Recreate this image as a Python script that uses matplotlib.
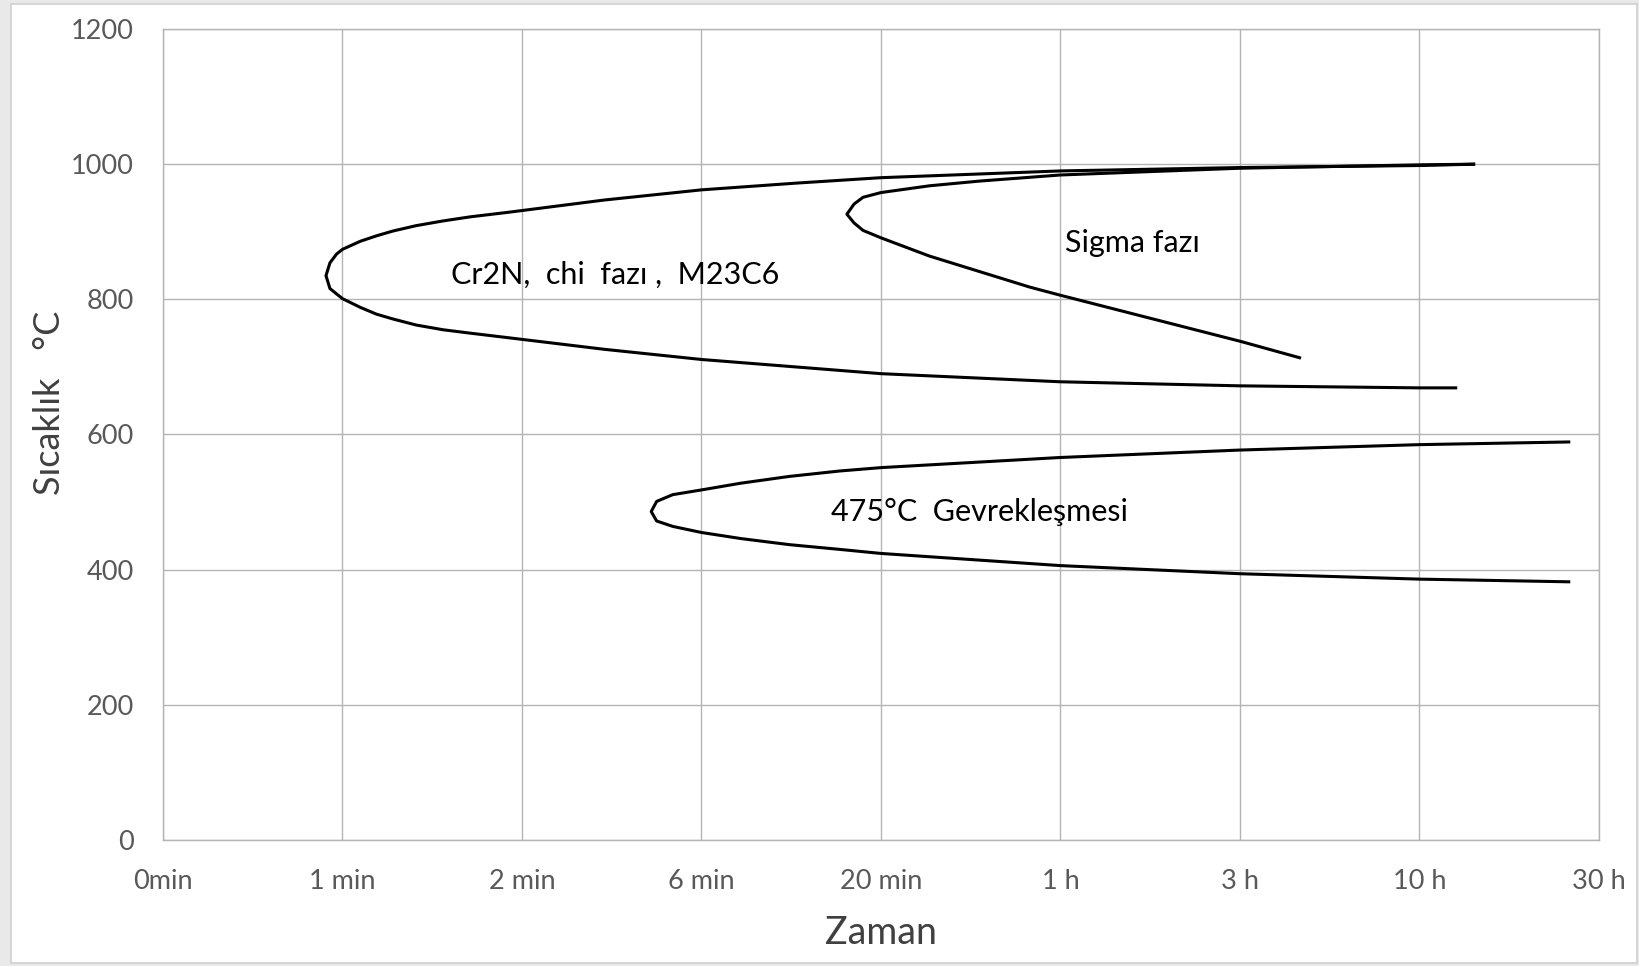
import matplotlib
matplotlib.use("Agg")
import matplotlib.pyplot as plt
from matplotlib.patches import Rectangle

# x positions are category steps: 0 = 0min, 1 = 1 min, ... 8 = 30 h
time_labels = ["0min", "1 min", "2 min", "6 min", "20 min", "1 h", "3 h", "10 h", "30 h"]
temp_ticks = [0, 200, 400, 600, 800, 1000, 1200]

# Cr2N / chi / M23C6 curve (upper end -> nose -> lower end)
cr2n_x = [7.31, 7.0, 6.0, 5.0, 4.0, 3.53, 3.0, 2.46, 1.93, 1.71, 1.56, 1.41, 1.28, 1.19, 1.10, 1.0,
          0.967, 0.93, 0.908,
          0.93, 0.967, 1.0, 1.10, 1.19, 1.28, 1.41, 1.56, 1.71, 1.93, 2.46, 3.0, 4.0, 5.0, 6.0,
          7.0, 7.21]
cr2n_y = [1000, 998, 995, 990, 980, 972, 962, 947, 929, 922, 916, 909, 901, 894, 886, 874,
          867, 854, 835,
          816, 808, 801, 788, 778, 771, 762, 755, 750, 743, 726, 711, 690, 678, 672,
          669, 669]

# Sigma phase curve
sigma_x = [7.31, 7.0, 6.0, 5.0, 4.55, 4.27, 4.0, 3.90, 3.85, 3.81, 3.85, 3.90, 4.0, 4.27, 4.55,
           4.83, 5.0, 6.0, 6.34]
sigma_y = [1000, 999, 994, 984, 975, 968, 958, 951, 941, 926, 913, 902, 891, 864, 841,
           818, 806, 738, 713]

# 475 C embrittlement curve
emb_x = [7.84, 7.0, 6.0, 5.0, 4.0, 3.77, 3.49, 3.22, 3.0, 2.84, 2.75, 2.72, 2.75, 2.84, 3.0, 3.22,
         3.49, 3.77, 4.0, 5.0, 6.0, 7.0, 7.84]
emb_y = [589, 585, 577, 566, 551, 546, 538, 528, 518, 511, 501, 486, 472, 464, 455, 446,
         437, 430, 424, 406, 394, 386, 382]

fig = plt.figure(figsize=(16.4, 9.66), dpi=100)
fig.patch.set_facecolor("#e9e9e9")
# white chart area with a thin frame, like the spreadsheet chart box
frame = Rectangle((11 / 1640, 3 / 966), 1626 / 1640, 959 / 966,
                  transform=fig.transFigure, facecolor="white",
                  edgecolor="#d0d0d0", linewidth=1.2, zorder=-10)
fig.patches.append(frame)

ax = fig.add_axes([163 / 1640, 1 - 840 / 966, 1436 / 1640, 811 / 966])
ax.set_zorder(5)
ax.set_facecolor("white")

for xs, ys in [(cr2n_x, cr2n_y), (sigma_x, sigma_y), (emb_x, emb_y)]:
    ax.plot(xs, ys, color="black", linewidth=2.2, solid_capstyle="butt",
            solid_joinstyle="round", zorder=3)

ax.set_xlim(0, len(time_labels) - 1)
ax.set_ylim(0, 1200)
ax.set_xticks(range(len(time_labels)))
ax.set_xticklabels(time_labels)
ax.set_yticks(temp_ticks)

grid_color = "#b4b4b4"
ax.grid(True, color=grid_color, linewidth=1.0)
for side in ["left", "right", "top", "bottom"]:
    ax.spines[side].set_color(grid_color)
    ax.spines[side].set_linewidth(1.0)
ax.tick_params(length=0, labelsize=19.5, labelcolor="#595959")
ax.tick_params(axis="x", pad=21)
ax.tick_params(axis="y", pad=21)
for lab in ax.get_xticklabels() + ax.get_yticklabels():
    lab.set_family("Lato")

ax.set_xlabel("Zaman", fontsize=27, family="Lato", color="#404040", va="center")
ax.xaxis.set_label_coords(0.5, -0.115)
ax.set_ylabel("Sıcaklık   °C", fontsize=26, family="Lato", color="#404040", va="center")
ax.yaxis.set_label_coords(-0.0787, 0.539)

text_style = dict(fontsize=22, family="Lato", color="black", ha="center", va="center")
ax.text(2.52, 837, "Cr2N,  chi  fazı ,  M23C6", **text_style)
ax.text(5.40, 884, "Sigma fazı", **text_style)
ax.text(4.55, 486, "475°C  Gevrekleşmesi", **text_style)

fig.savefig("out.png", dpi=100, facecolor=fig.get_facecolor())
